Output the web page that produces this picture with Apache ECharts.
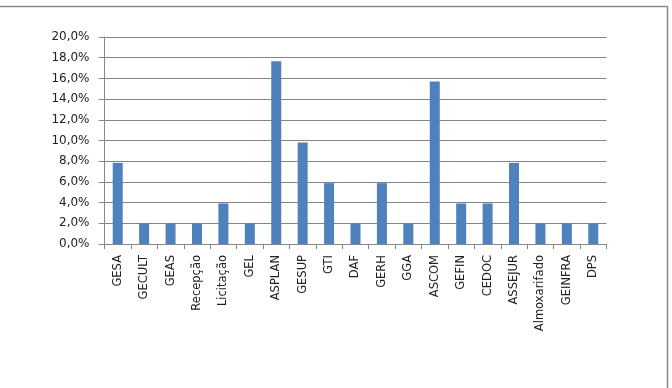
<!DOCTYPE html>
<html>
<head>
<meta charset="utf-8">
<script src="https://cdn.jsdelivr.net/npm/echarts@6/dist/echarts.min.js"></script>
<style>
html,body{margin:0;padding:0;background:#fff;}
#c{width:672px;height:388px;}
</style>
</head>
<body>
<div id="c"></div>
<script>
const categories = ["GESA","GECULT","GEAS","Recepção","Licitação","GEL","ASPLAN","GESUP","GTI","DAF","GERH","GGA","ASCOM","GEFIN","CEDOC","ASSEJUR","Almoxarifado","GEINFRA","DPS"];
const values = [7.84,1.96,1.96,1.96,3.92,1.96,17.65,9.80,5.88,1.96,5.88,1.96,15.69,3.92,3.92,7.84,1.96,1.96,1.96];
const yMin = 0, yMax = 20, yStep = 2;

const chart = echarts.init(document.getElementById('c'), null, {renderer:'canvas'});
const font = 'DejaVu Sans';
chart.setOption({
  animation:false,
  backgroundColor:'#fff',
  grid:{left:104.5, right:65.5, top:37, bottom:144, containLabel:false},
  xAxis:{
    type:'category',
    data:categories,
    axisLine:{lineStyle:{color:'#888',width:1}},
    axisTick:{show:true,length:5,lineStyle:{color:'#888'}},
    axisLabel:{rotate:90,margin:11,color:'#222',fontFamily:font,fontSize:11.5,interval:0}
  },
  yAxis:{
    type:'value',
    min:yMin,max:yMax,interval:yStep,
    axisLine:{show:true,lineStyle:{color:'#888',width:1}},
    axisTick:{show:true,length:6,lineStyle:{color:'#888'}},
    splitLine:{lineStyle:{color:'#858585',width:1}},
    axisLabel:{margin:15,color:'#222',fontFamily:font,fontSize:12,
      formatter:v=>v.toFixed(1).replace('.',',')+'%'}
  },
  series:[{
    type:'bar',
    data:values,
    barWidth:10,
    itemStyle:{color:'#4f81bd'}
  }],
  graphic:[
    {type:'line',shape:{x1:0,y1:6.5,x2:667.5,y2:6.5},style:{stroke:'#8a8a8a',lineWidth:1.5}},
    {type:'line',shape:{x1:667.5,y1:6,x2:667.5,y2:388},style:{stroke:'#8a8a8a',lineWidth:1.5}}
  ]
});
</script>
</body>
</html>
